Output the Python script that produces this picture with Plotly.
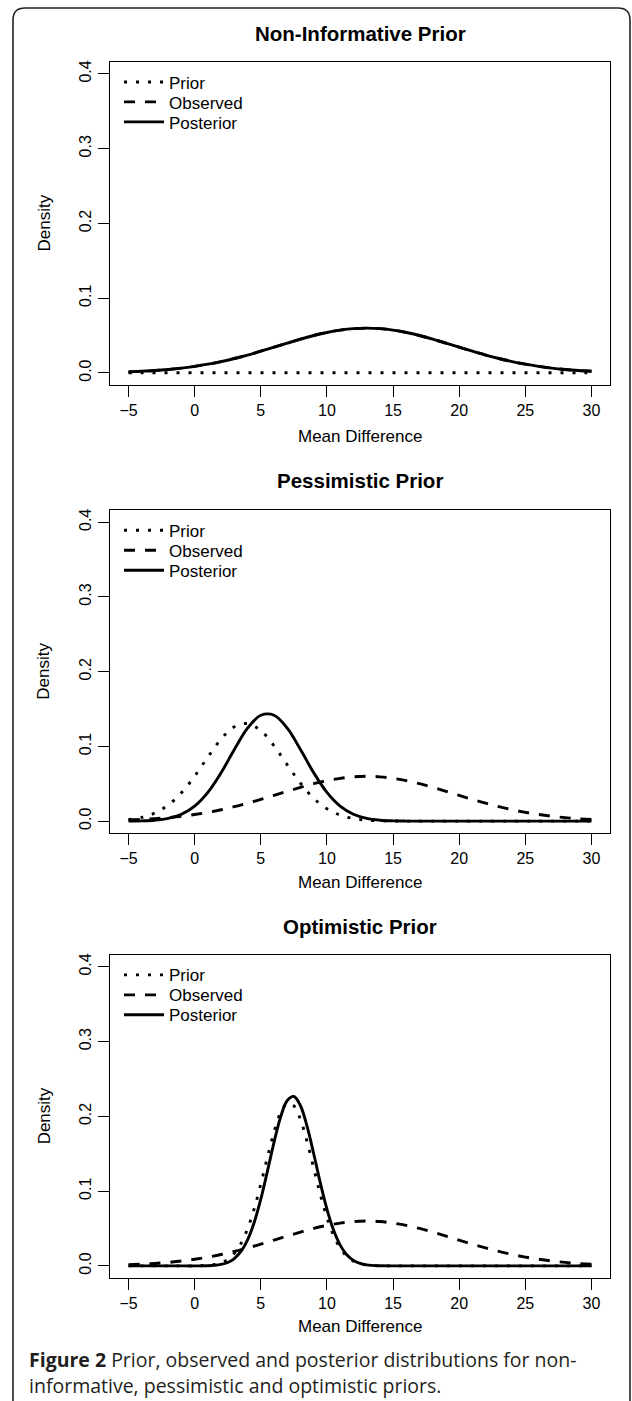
import plotly.graph_objects as go

W, H = 632, 1401

# ---------------- data ----------------
x_obs = [-5, -4, -3, -2, -1, 0, 1, 2, 3, 4, 5, 6, 7, 8, 9, 10, 11, 12, 13, 14,
         15, 16, 17, 18, 19, 20, 21, 22, 23, 24, 25, 26, 27, 28, 29, 30]

x_fine = [-5, -4, -3, -2, -1, 0, 1, 1.5, 2, 2.5, 3, 3.5, 4, 4.5, 5, 5.5, 6, 6.5,
          7, 7.5, 8, 8.5, 9, 9.5, 10, 10.5, 11, 11.5, 12, 12.5, 13, 14, 15, 16,
          17, 18, 19, 20, 21, 22, 23, 24, 25, 26, 27, 28, 29, 30]

observed = [0.0015, 0.0023, 0.0033, 0.0047, 0.0065, 0.0089, 0.0118, 0.0153, 0.0194,
            0.0240, 0.0291, 0.0345, 0.0399, 0.0452, 0.0501, 0.0542, 0.0573, 0.0593,
            0.0600, 0.0593, 0.0573, 0.0542, 0.0501, 0.0452, 0.0399, 0.0345, 0.0291,
            0.0240, 0.0194, 0.0153, 0.0118, 0.0089, 0.0065, 0.0047, 0.0033, 0.0023]

noninf_prior = [0.0004, 0.0004, 0.0004, 0.0004, 0.0004, 0.0004, 0.0004, 0.0004, 0.0004,
                0.0004, 0.0004, 0.0004, 0.0004, 0.0004, 0.0004, 0.0004, 0.0004, 0.0004,
                0.0004, 0.0004, 0.0004, 0.0004, 0.0004, 0.0004, 0.0004, 0.0004, 0.0004,
                0.0004, 0.0004, 0.0004, 0.0004, 0.0004, 0.0004, 0.0004, 0.0004, 0.0004]

noninf_post = [0.0015, 0.0023, 0.0033, 0.0047, 0.0065, 0.0089, 0.0118, 0.0153, 0.0194,
               0.0240, 0.0291, 0.0345, 0.0399, 0.0452, 0.0501, 0.0542, 0.0573, 0.0593,
               0.0600, 0.0593, 0.0573, 0.0542, 0.0501, 0.0452, 0.0399, 0.0345, 0.0291,
               0.0240, 0.0194, 0.0153, 0.0118, 0.0089, 0.0065, 0.0047, 0.0033, 0.0023]

pess_prior = [0.0020, 0.0050, 0.0109, 0.0215, 0.0379, 0.0602, 0.0858, 0.1099, 0.1264,
              0.1305, 0.1211, 0.1008, 0.0754, 0.0507, 0.0306, 0.0166, 0.0081, 0.0035,
              0.0014, 0.0005, 0.0002, 0.0001, 0.0, 0.0, 0.0, 0.0, 0.0,
              0.0, 0.0, 0.0, 0.0, 0.0, 0.0, 0.0, 0.0, 0.0]

pess_post = [0.0001, 0.0004, 0.0013, 0.0037, 0.0092, 0.0201, 0.0385, 0.0648, 0.0958,
             0.1244, 0.1417, 0.1417, 0.1244, 0.0958, 0.0648, 0.0385, 0.0201, 0.0092,
             0.0037, 0.0013, 0.0004, 0.0001, 0.0, 0.0, 0.0, 0.0, 0.0,
             0.0, 0.0, 0.0, 0.0, 0.0, 0.0, 0.0, 0.0, 0.0]

opt_prior = [0.0, 0.0, 0.0, 0.0, 0.0, 0.0001, 0.0008, 0.0019, 0.0042, 0.0086, 0.0167,
             0.0298, 0.0496, 0.0764, 0.1093, 0.1452, 0.1789, 0.2047, 0.2173, 0.2141,
             0.1957, 0.1661, 0.1308, 0.0956, 0.0648, 0.0408, 0.0238, 0.0129, 0.0065,
             0.0030, 0.0013, 0.0002, 0.0, 0.0, 0.0, 0.0, 0.0, 0.0, 0.0, 0.0, 0.0,
             0.0, 0.0, 0.0, 0.0, 0.0, 0.0, 0.0]

opt_post = [0.0, 0.0, 0.0, 0.0, 0.0, 0.0, 0.0003, 0.0008, 0.0020, 0.0046, 0.0099,
            0.0193, 0.0349, 0.0581, 0.0893, 0.1265, 0.1653, 0.1991, 0.2212, 0.2266,
            0.2142, 0.1866, 0.1500, 0.1111, 0.0760, 0.0479, 0.0278, 0.0149, 0.0074,
            0.0034, 0.0014, 0.0002, 0.0, 0.0, 0.0, 0.0, 0.0, 0.0, 0.0, 0.0, 0.0,
            0.0, 0.0, 0.0, 0.0, 0.0, 0.0, 0.0]

panel_titles = ["Non-Informative Prior", "Pessimistic Prior", "Optimistic Prior"]
series_names = ["Prior", "Observed", "Posterior"]
x_ticks = [-5, 0, 5, 10, 15, 20, 25, 30]
y_ticks = [0.0, 0.1, 0.2, 0.3, 0.4]
y_tick_text = ["0.0", "0.1", "0.2", "0.3", "0.4"]
x_title = "Mean Difference"
y_title = "Density"
caption_1 = "<b>Figure 2</b> Prior, observed and posterior distributions for non-"
caption_2 = "informative, pessimistic and optimistic priors."

panels = [
    [(x_obs, noninf_prior), (x_obs, observed), (x_obs, noninf_post)],
    [(x_obs, pess_prior), (x_obs, observed), (x_obs, pess_post)],
    [(x_fine, opt_prior), (x_obs, observed), (x_fine, opt_post)],
]

# ---------------- layout helpers (pixels -> paper) ----------------
def px(p):
    return p / W

def py(p):
    return 1 - p / H

FONT = "Liberation Sans, Arial, Helvetica, sans-serif"
box_x = (110, 610)
box_y = [(60, 383.5), (509, 832.3), (954.2, 1277.7)]
title_y = [32, 479, 925.5]
xlab_y = [435, 882, 1326]
legend_rows = [20.5, 40.5, 60.5]
dashes = ["3px,9px", "11px,10px", "solid"]

fig = go.Figure()

k = 0
for i, series in enumerate(panels):
    s = "" if i == 0 else str(i + 1)
    top, bot = box_y[i]
    for j, ((xs, ys), name, dash) in enumerate(zip(series, series_names, dashes)):
        leg = "legend" if k == 0 else "legend" + str(k + 1)
        fig.add_trace(go.Scatter(
            x=xs, y=ys, mode="lines", name=name, showlegend=True,
            line=dict(color="black", width=2.9, dash=dash, shape="spline"),
            xaxis="x" + s, yaxis="y" + s, legend=leg, hoverinfo="skip",
        ))
        fig.layout[leg] = dict(
            x=px(119), y=py(top + legend_rows[j]), xanchor="left", yanchor="middle",
            bgcolor="rgba(0,0,0,0)", borderwidth=0, itemwidth=40,
            font=dict(family=FONT, size=17, color="black"),
        )
        k += 1
    fig.layout["xaxis" + s] = dict(
        domain=[px(box_x[0]), px(box_x[1])], anchor="y" + s,
        range=[-6.4, 31.4], tickmode="array", tickvals=x_ticks,
        ticks="outside", ticklen=11, tickwidth=1.3, tickcolor="black",
        showline=True, mirror=True, linecolor="black", linewidth=1.3,
        showgrid=False, zeroline=False,
        tickfont=dict(family=FONT, size=16, color="black"),
    )
    fig.layout["yaxis" + s] = dict(
        domain=[py(bot), py(top)], anchor="x" + s,
        range=[-0.016, 0.416], tickmode="array", tickvals=y_ticks,
        ticktext=y_tick_text, tickangle=-90,
        ticks="outside", ticklen=11, tickwidth=1.3, tickcolor="black",
        showline=True, mirror=True, linecolor="black", linewidth=1.3,
        showgrid=False, zeroline=False,
        tickfont=dict(family=FONT, size=16, color="black"),
    )
    fig.add_annotation(text="<b>" + panel_titles[i] + "</b>", xref="paper", yref="paper",
                       x=px(360), y=py(title_y[i]), showarrow=False,
                       xanchor="center", yanchor="middle",
                       font=dict(family=FONT, size=20.5, color="black"))
    fig.add_annotation(text=x_title, xref="paper", yref="paper",
                       x=px(360), y=py(xlab_y[i]), showarrow=False,
                       xanchor="center", yanchor="middle",
                       font=dict(family=FONT, size=17, color="black"))
    fig.add_annotation(text=y_title, xref="paper", yref="paper",
                       x=px(44), y=py((top + bot) / 2), showarrow=False,
                       textangle=-90, xanchor="center", yanchor="middle",
                       font=dict(family=FONT, size=17, color="black"))

CAP_FONT = "Open Sans, Noto Sans, sans-serif"
fig.add_annotation(text=caption_1, xref="paper", yref="paper", x=px(27), y=py(1359),
                   showarrow=False, xanchor="left", yanchor="middle",
                   font=dict(family=CAP_FONT, size=19.5, color="#231f20"))
fig.add_annotation(text=caption_2, xref="paper", yref="paper", x=px(27), y=py(1385),
                   showarrow=False, xanchor="left", yanchor="middle",
                   font=dict(family=CAP_FONT, size=19.5, color="#231f20"))

# outer rounded frame
def P(xp, yp):
    return f"{px(xp):.5f},{py(yp):.5f}"

frame = ("M " + P(13, 1401) + " L " + P(13, 18) + " Q " + P(13, 6) + " " + P(25, 6) +
         " L " + P(618, 6) + " Q " + P(630, 6) + " " + P(630, 18) + " L " + P(630, 1401))
fig.add_shape(type="path", path=frame, xref="paper", yref="paper",
              line=dict(color="#222222", width=1.6))

fig.update_layout(
    width=W, height=H, margin=dict(l=0, r=0, t=0, b=0),
    paper_bgcolor="white", plot_bgcolor="white", showlegend=True,
)

fig.write_html("out.html", config={"displayModeBar": False},
               post_script="document.body.style.margin='0px';")
